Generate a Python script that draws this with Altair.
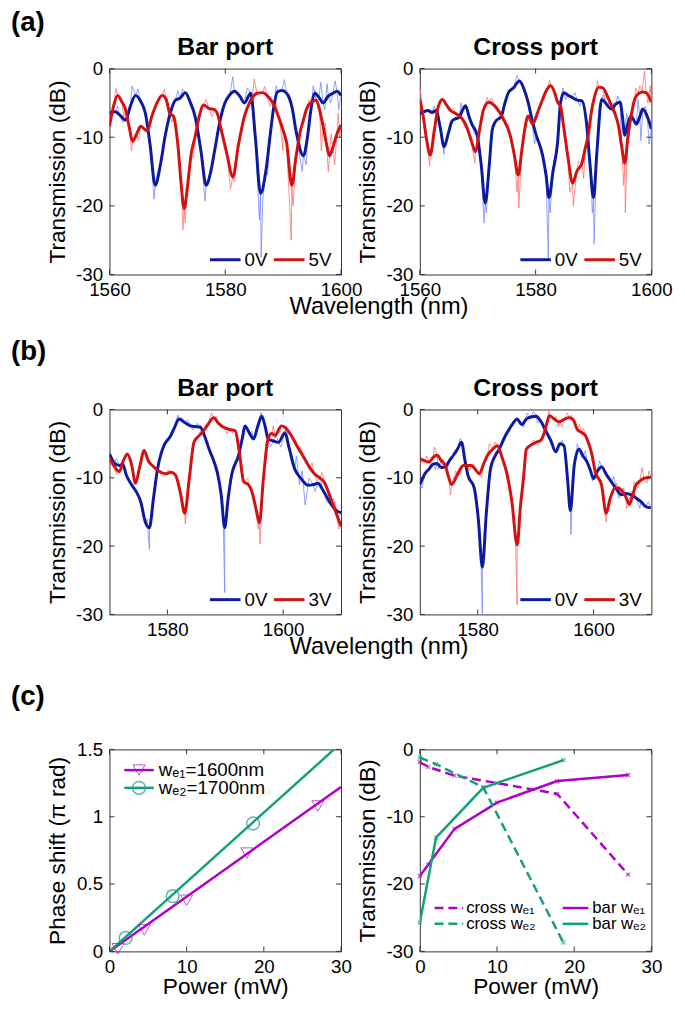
import altair as alt
import pandas as pd

FONT = "Liberation Sans"
BLUE = "#0b1a9e"
BLUE_RAW = "#7080ff"
RED = "#d41010"
RED_RAW = "#ff6a6a"
MAG = "#b000c8"
GRN = "#12a07c"
BOX = "#333333"

W = 235
H_A, H_B, H_C = 209, 208, 205

# ---------------- (a) Bar port ----------------
A_BAR_0V_WL = [1560, 1561, 1561.7, 1562.8, 1563.6, 1564.5, 1565.4, 1566.2, 1567, 1567.9, 1568.8, 1569.6, 1570.5,
               1571.4, 1572.2, 1573.1, 1573.9, 1574.8, 1575.8, 1576.7, 1577.5, 1578.2, 1579, 1579.9, 1580.8, 1581.6,
               1582.5, 1583.3, 1584.4, 1585.2, 1586.1, 1587, 1587.8, 1588.4, 1589, 1589.8, 1590.6, 1591.5, 1592.3,
               1593.5, 1594.2, 1594.8, 1595.5, 1596.2, 1596.9, 1597.8, 1598.6, 1599.3, 1600]
A_BAR_0V_DB = [-6.5, -6.3, -6.7, -7.5, -5.5, -3.9, -4.8, -6.5, -11, -17, -14, -9.9, -6.5,
               -4.6, -4.3, -3.5, -4.8, -7, -12, -17, -15, -11.8, -8, -5.1, -3.8, -3.3,
               -4, -5, -3.6, -10, -18.2, -15, -9.4, -5.5, -3.4, -3.2, -3.6, -5.5, -9.4,
               -12.7, -10, -6, -3.6, -4.2, -5, -4, -3.6, -3.3, -3.9]
A_BAR_0V_RAW_WL = [1561.4, 1562.3, 1563.9, 1564.9, 1566.5, 1567.7, 1568.2, 1570.9, 1571.8, 1572.6, 1574.3, 1576.5,
                   1577.3, 1580.4, 1581.3, 1582.0, 1583.8, 1584.8, 1585.9, 1586.2, 1586.5, 1587.3, 1588.8, 1590.2,
                   1591.0, 1592.7, 1593.3, 1594.0, 1595.2, 1595.8, 1596.5, 1597.2, 1597.6, 1598.2, 1599.0, 1599.6]
A_BAR_0V_RAW_DB = [-5.5, -7.8, -2.5, -3.0, -8, -19, -15.5, -5.5, -3.2, -3.0, -6.0, -19.3,
                   -16, -4.5, -1.2, -3.5, -2.8, -6.5, -22, -27.5, -19, -15.5, -2.5, -1.6,
                   -4.5, -12, -15, -14, -2.5, -5, -2, -6, -2.2, -5, -1.8, -6]

A_BAR_5V_WL = [1560, 1560.7, 1561.4, 1562.1, 1562.8, 1563.4, 1564, 1564.7, 1565.4, 1566, 1566.5, 1567.3, 1568.2,
               1569.1, 1569.8, 1570.4, 1571.1, 1571.8, 1572.4, 1572.9, 1573.5, 1574.1, 1574.8, 1575.5, 1576.2,
               1577.2, 1578.2, 1578.8, 1579.3, 1580.3, 1581.3, 1582.3, 1583.3, 1584.3, 1585.5, 1586.5, 1587.2,
               1588.2, 1589.2, 1590, 1590.6, 1591.5, 1592.2, 1592.9, 1593.5, 1594, 1595, 1595.7, 1596.3, 1596.9,
               1597.5, 1598, 1598.6, 1599.3, 1600]
A_BAR_5V_DB = [-8.4, -5.5, -3.9, -4.8, -6, -8.5, -10.6, -9.5, -8.4, -8.8, -9.1, -7, -5,
               -3.9, -4.5, -6.5, -7, -11, -17, -20.4, -17, -12.5, -9.9, -7, -5.3,
               -5.8, -6, -7, -8.9, -12.5, -15.8, -11, -7, -4.8, -3.6, -3.5, -3.9,
               -5, -7, -9, -10.8, -17, -13, -9.4, -7.5, -6, -4.8, -4.6, -6, -8.4,
               -11, -12.7, -11.5, -9.5, -8.2]
A_BAR_5V_RAW_WL = [1561.1, 1562.5, 1563.8, 1565.0, 1569.5, 1570.8, 1572.7, 1573.1, 1573.3, 1574.5, 1576.7, 1577.7,
                   1579.8, 1580.9, 1581.6, 1582.8, 1584.8, 1585.0, 1586.8, 1587.7, 1588.6, 1589.6, 1590.0, 1591.4,
                   1591.7, 1592.6, 1594.5, 1595.5, 1596.6, 1597.3, 1597.8, 1598.3, 1598.9, 1599.5, 1599.8]
A_BAR_5V_RAW_DB = [-2.9, -7, -12, -10.5, -3, -7.8, -23.5, -22.5, -19, -13, -4.5, -7,
                   -11, -17.5, -16.5, -8.5, -3.2, -1.5, -2.6, -5.5, -4.2, -9, -12, -25,
                   -20, -10.5, -4.5, -3.2, -12, -8, -15, -9.5, -14, -6.5, -10]

# ---------------- (a) Cross port ----------------
A_CRS_0V_WL = [1560, 1560.7, 1561.4, 1562.1, 1562.8, 1563.5, 1564.2, 1564.9, 1565.6, 1566.2, 1566.8, 1567.4, 1567.9,
               1568.5, 1569, 1569.9, 1570.6, 1571.3, 1572, 1572.5, 1573, 1574.1, 1574.7, 1575.3, 1576.2, 1577.2,
               1578, 1578.7, 1579.4, 1580.1, 1581.2, 1581.8, 1582.3, 1583, 1583.8, 1584.3, 1584.9, 1585.6, 1586.3,
               1587.2, 1588, 1588.8, 1589.4, 1590, 1590.6, 1591.4, 1592, 1592.5, 1593.1, 1593.8, 1594.6, 1595,
               1595.4, 1596, 1596.5, 1597, 1597.4, 1598, 1598.5, 1599.3, 1600]
A_CRS_0V_DB = [-6.6, -6.3, -6.1, -6.4, -6.1, -8.5, -11.4, -9.5, -7.6, -7.3, -7.1, -6, -5.4,
               -7, -8.1, -9.7, -14, -19.6, -14, -9, -7.8, -6.9, -5, -3.5, -2.8, -1.8,
               -3, -4.9, -7.5, -9.7, -12.6, -15.5, -18.8, -15, -10.7, -5, -3.5, -3.9, -4.2,
               -4.6, -4.7, -8, -14, -18.8, -12, -4.5, -4.9, -5.5, -5.9, -5.2, -4.9, -7,
               -9.7, -7.8, -6.9, -7.6, -8.1, -7, -5.9, -7, -8.8]
A_CRS_0V_RAW_WL = [1562.5, 1564.2, 1565.2, 1567.1, 1569.4, 1571.1, 1571.5, 1573.5, 1575.8, 1576.8, 1577.6, 1578.4,
                   1579.8, 1580.6, 1581.5, 1582.2, 1582.5, 1583.2, 1584.7, 1585.2, 1586.8, 1587.6, 1588.4, 1589.8,
                   1590.1, 1590.4, 1591.7, 1592.8, 1593.4, 1594.2, 1594.8, 1595.7, 1596.2, 1597.7, 1598.2, 1599.0,
                   1599.6]
A_CRS_0V_RAW_DB = [-5.5, -12.5, -8.5, -5, -9.5, -22.5, -21, -7.5, -2.8, -1.0, -2.5, -3.8,
                   -11, -10.5, -13.5, -28, -21, -13.5, -2.8, -4.5, -3.5, -5.5, -5, -21,
                   -25.5, -17, -3.8, -4.5, -6.5, -4, -11, -6.5, -10, -4.5, -10.5, -5.5,
                   -11]

A_CRS_5V_WL = [1560, 1560.5, 1561.2, 1561.8, 1562.5, 1563.2, 1563.9, 1564.6, 1565.3, 1566.3, 1567.3, 1568, 1568.9,
               1569.6, 1570.3, 1571, 1571.9, 1572.9, 1573.8, 1574.7, 1575.6, 1576.3, 1577, 1577.6, 1578.1, 1578.7,
               1579.5, 1580.3, 1581.2, 1582, 1582.6, 1583.2, 1583.8, 1584.3, 1584.9, 1585.6, 1586.4, 1587.1, 1588,
               1588.6, 1589.1, 1589.6, 1590.2, 1590.9, 1591.6, 1592.4, 1593.1, 1593.7, 1594.3, 1594.9, 1595.4,
               1596, 1596.5, 1597.1, 1597.7, 1598.4, 1599.1, 1600]
A_CRS_5V_DB = [-4.5, -6.5, -10.5, -12.6, -9, -5.5, -4.5, -5.3, -6.1, -6.6, -7.3, -8.3, -10.5,
               -12.1, -9, -6, -4.9, -5.4, -6.4, -7.8, -9.7, -12.5, -15.5, -12, -9, -6.9,
               -8.1, -6.5, -4.5, -3, -2.5, -3.3, -4.9, -5.5, -8.8, -13, -16.7, -15, -13.8,
               -11.5, -9.7, -6.5, -4, -2.7, -2.8, -4, -5.4, -6.5, -8.3, -11.5, -13.8,
               -9.5, -6.9, -4.5, -3.7, -3.4, -3.5, -4.9]
A_CRS_5V_RAW_WL = [1560.1, 1561.7, 1562.9, 1565.8, 1567.7, 1569.5, 1570.7, 1571.6, 1572.4, 1574.2, 1575.2, 1576.8,
                   1577.1, 1577.8, 1578.4, 1579.9, 1581.6, 1582.4, 1583.5, 1584.6, 1585.2, 1585.9, 1586.5, 1587.4,
                   1588.3, 1589.3, 1590.7, 1592.0, 1593.4, 1594.6, 1595.2, 1595.5, 1595.8, 1596.8, 1597.3, 1598.0,
                   1598.8, 1599.4, 1599.8]
A_CRS_5V_RAW_DB = [-3, -14.2, -6, -5.8, -8.5, -13.8, -7, -4.2, -4.3, -7.5, -8, -18,
                   -20.3, -11, -8, -7, -3.8, -1.7, -3.5, -7, -11, -18, -20, -13.5,
                   -16, -8.5, -1.8, -4.6, -5, -11, -17, -21, -12, -5, -2.8, -2.5,
                   -0.4, -5, -2.5]

# ---------------- (b) Bar port ----------------
B_BAR_0V_WL = [1570, 1570.8, 1571.7, 1572.3, 1572.9, 1573.8, 1574.6, 1575.4, 1576.2, 1576.9, 1577.6, 1578.3, 1578.9,
               1579.4, 1580.6, 1581.3, 1582, 1583, 1584, 1584.8, 1585.7, 1586.4, 1587.2, 1588, 1588.6, 1589.3,
               1589.9, 1590.5, 1591.1, 1592.3, 1593, 1593.4, 1594.2, 1594.9, 1595.6, 1596.3, 1596.9, 1597.4,
               1598.3, 1599.2, 1600.3, 1601, 1602, 1603, 1604.3, 1605.2, 1606, 1607, 1608.3, 1609.2, 1610]
B_BAR_0V_DB = [-6.5, -7.8, -8.2, -8, -9.6, -11, -12, -13.5, -16.5, -17.3, -13, -8.7, -6.5,
               -5.3, -3.8, -2.5, -1.4, -1.9, -2.4, -2.5, -2.6, -3.8, -5.8, -7.5, -9.1, -12.5,
               -17.3, -13, -9.6, -6.7, -4, -2.4, -3.5, -4.3, -2.5, -1, -2.5, -4.3,
               -4.6, -4.8, -3.4, -5.5, -8.7, -10, -11.1, -11, -10.8, -12, -13.9, -14.8, -15.1]
B_BAR_0V_RAW_WL = [1571.2, 1573.4, 1575.0, 1576.5, 1576.9, 1577.2, 1579.8, 1581.8, 1582.5, 1583.5, 1584.4, 1585.2,
                   1587.6, 1588.3, 1589.6, 1589.9, 1590.2, 1591.6, 1592.8, 1594.6, 1596.2, 1597.8, 1598.8, 1599.6,
                   1600.6, 1601.5, 1602.3, 1602.8, 1603.3, 1603.8, 1604.5, 1605.5, 1606.5, 1607.5, 1608.7, 1609.5]
B_BAR_0V_RAW_DB = [-7.2, -10.2, -12.8, -16, -20.5, -15, -4.5, -0.8, -1.2, -1.5, -3.0, -2.0,
                   -6.5, -9, -14, -26.8, -14, -8, -5, -3.2, -0.4, -5.5, -3.8, -5.5,
                   -2.5, -8, -6.8, -11, -9, -14, -10, -12, -10.5, -13.5, -13, -15.8]

B_BAR_3V_WL = [1570, 1570.8, 1571.7, 1572.4, 1573.1, 1573.8, 1574.5, 1575.2, 1576, 1576.7, 1577.4, 1578.5, 1579.7,
               1580.6, 1581.4, 1582.2, 1583, 1583.8, 1584.6, 1585.3, 1586, 1587, 1588, 1588.8, 1589.7, 1590.7,
               1591.7, 1592.4, 1593.2, 1594, 1594.6, 1595.3, 1595.9, 1596.6, 1597.4, 1598, 1598.6, 1599.7,
               1600.3, 1601.4, 1602.5, 1603.7, 1604.6, 1605.4, 1606.3, 1607.2, 1608, 1608.6, 1609.3, 1610]
B_BAR_3V_DB = [-7.2, -8.3, -9.1, -7.5, -6.5, -8, -10.8, -8.5, -6, -7.5, -8.2, -9, -9.4,
               -9.2, -9.6, -12, -15.2, -10, -4.8, -4, -3.4, -2.2, -1.2, -2, -2.6, -2.9,
               -3.1, -6, -10.6, -11, -12, -14.5, -16.6, -10, -4.3, -3.5, -3.8, -2.4,
               -2.6, -3.8, -5.5, -7.2, -8.5, -9.4, -10, -10.8, -12.5, -13.9, -15.5, -17.1]
B_BAR_3V_RAW_WL = [1571.2, 1572.8, 1575.6, 1577.9, 1579.2, 1580.2, 1581.8, 1582.8, 1583.1, 1583.4, 1585.7, 1586.5,
                   1587.6, 1588.5, 1589.2, 1590.3, 1591.2, 1592.8, 1593.9, 1594.3, 1595.7, 1596.0, 1596.3, 1597.0,
                   1598.3, 1599.0, 1599.4, 1600.8, 1601.0, 1602.0, 1603, 1604.2, 1605.0, 1605.8, 1606.7, 1607.7,
                   1609.0, 1609.6]
B_BAR_3V_RAW_DB = [-9.5, -6.8, -7, -8.5, -9.8, -8.8, -10.5, -14, -16.8, -13, -3.2, -2.8,
                   -0.5, -1.0, -2.2, -3.5, -3.4, -8.5, -10, -11.5, -17.5, -19.7, -15, -5,
                   -2.4, -3.2, -3.5, -3.0, -3, -4.8, -5.5, -8, -7.8, -10.5, -9.2, -12,
                   -13.5, -17.5]

# ---------------- (b) Cross port ----------------
B_CRS_0V_WL = [1570, 1570.8, 1571.6, 1572.3, 1573, 1573.7, 1574.4, 1575.1, 1575.8, 1576.5, 1577.2, 1577.8, 1578.3,
               1579.4, 1580.1, 1580.8, 1581.5, 1582.2, 1583, 1583.7, 1584.8, 1585.5, 1586.2, 1586.8, 1587.6,
               1588.4, 1589.2, 1590.1, 1590.8, 1591.8, 1592.6, 1593.5, 1594.2, 1594.9, 1595.5, 1596, 1596.7,
               1597.5, 1598.2, 1598.9, 1599.5, 1600, 1600.7, 1601.4, 1602.2, 1603.1, 1604, 1604.8, 1605.6,
               1606.5, 1607.4, 1608.2, 1609, 1609.9]
B_CRS_0V_DB = [-11, -9.5, -8.7, -8, -7.9, -8.5, -8.4, -7.5, -6.7, -5.8, -4.8, -7.5, -9.6,
               -11.5, -16, -23.1, -15, -8.7, -6.8, -5.8, -3.8, -2.8, -1.9, -1.4, -2.2,
               -1.4, -1.1, -1.0, -1.6, -3.2, -4.5, -6.2, -5, -5.3, -10, -14.8, -8,
               -5.8, -6.8, -7.7, -9, -10.1, -9, -8.4, -9.5, -10.6, -11.7, -12.5, -12.3,
               -12.5, -13, -13.5, -14.2, -14.4]
B_CRS_0V_RAW_WL = [1570.4, 1571.9, 1572.7, 1574.0, 1574.8, 1576.1, 1577, 1578.8, 1580.5, 1580.8, 1581.1, 1583.3,
                   1584.2, 1585.8, 1587.2, 1587.9, 1588.5, 1589.6, 1590.3, 1591.3, 1592.2, 1593.0, 1594.6, 1595.8,
                   1596.1, 1596.4, 1597.2, 1597.9, 1598.6, 1599.8, 1601, 1602.6, 1603.5, 1604.4, 1605.2, 1606,
                   1607, 1608, 1609.5]
B_CRS_0V_RAW_DB = [-11.5, -8, -8.8, -8, -8.6, -6.2, -4.2, -10.5, -20, -30, -18, -6.3,
                   -4.5, -2.3, -1.8, -2.6, -0.5, -0.3, -2, -2.2, -4.2, -5.4, -4.5, -13,
                   -18.3, -11, -5, -7, -6, -10.5, -7.5, -10, -9.8, -13, -11.5, -13.5,
                   -12, -14.5, -13.5]

B_CRS_3V_WL = [1570, 1570.8, 1571.6, 1572.3, 1573, 1573.7, 1574.4, 1575, 1575.5, 1576.5, 1577.5, 1578.2, 1578.9,
               1579.6, 1580.3, 1581, 1581.7, 1582.6, 1583.4, 1584.2, 1585.1, 1585.9, 1586.8, 1587.4, 1587.9,
               1588.4, 1589.2, 1590.1, 1590.9, 1591.5, 1592, 1592.4, 1593.2, 1594.1, 1595, 1595.8, 1596.5,
               1597.2, 1598, 1598.6, 1599.1, 1599.7, 1600.3, 1601.4, 1602.2, 1602.9, 1603.7, 1604.3, 1605,
               1605.6, 1606.2, 1606.8, 1607.3, 1608, 1608.7, 1609.9]
B_CRS_3V_DB = [-7.2, -7.5, -7.7, -7, -6.7, -7.5, -8.2, -10, -11, -9.5, -8.2, -8.2, -8.2,
               -8.8, -9.4, -8, -6.7, -5.8, -5.3, -7, -9.6, -13.5, -19.8, -14, -10.1,
               -5.8, -5.2, -4.8, -4.5, -3.4, -1.8, -0.9, -1.4, -1.8, -1.4, -1.2, -1.5,
               -2.9, -3.4, -3.8, -4.8, -6.5, -9.1, -11.1, -15.2, -13, -11.5, -11.5, -12,
               -12.8, -13.9, -12.5, -11.1, -10.5, -10.1, -9.9]
B_CRS_3V_RAW_WL = [1570.4, 1571.2, 1572.5, 1573.2, 1574.0, 1575.3, 1576.2, 1577.0, 1577.9, 1578.6, 1579.3, 1580.7,
                   1582, 1583.0, 1583.8, 1586.5, 1586.8, 1587.1, 1588.8, 1589.6, 1590.5, 1591.2, 1592.3, 1593.5,
                   1593.9, 1594.6, 1595.5, 1596.2, 1597.0, 1597.6, 1598.3, 1599.4, 1600.8, 1601.8, 1602.2, 1602.6,
                   1603.3, 1604.0, 1604.7, 1605.7, 1606.5, 1607.0, 1607.7, 1608.4, 1609.2, 1609.6]
B_CRS_3V_RAW_DB = [-7.8, -6.8, -5.5, -8.8, -7.2, -12.5, -9, -9.5, -7.5, -9, -8, -10,
                   -5, -4.8, -6, -18, -28.6, -20, -5.8, -4.5, -5.3, -4, 0, -1,
                   -2.5, -2.5, -0.5, -0.8, -2.5, -2.2, -2.8, -5.5, -10, -13, -16.5, -13.5,
                   -12.5, -10.8, -12.5, -14.5, -12, -10.5, -11.5, -8.5, -10.8, -9]

# ---------------- (c) phase shift ----------------
WE1_P = [1.1, 4.5, 10, 17.8, 27]
WE1_PHASE = [0.02, 0.16, 0.38, 0.73, 1.08]
WE2_P = [2.1, 8.2, 18.6]
WE2_PHASE = [0.1, 0.41, 0.95]
FIT1_P = [0, 30]
FIT1_PHASE = [0, 1.22]
FIT2_P = [0, 29.1]
FIT2_PHASE = [0, 1.5]

# ---------------- (c) transmission ----------------
T1_P = [0, 1.1, 4.5, 10, 17.8, 27]
CROSS1_DB = [-1.9, -2.6, -3.9, -5.0, -6.6, -18.6]
BAR1_DB = [-18.8, -17.1, -11.8, -7.9, -4.7, -3.8]
T2_P = [0, 2.1, 8.2, 18.6]
CROSS2_DB = [-1.2, -2.2, -5.6, -28.7]
BAR2_DB = [-25.7, -13.1, -5.7, -1.6]

TICK_FS = 19
TITLE_FS = 23
HEAD_FS = 25
PANEL_FS = 28
LEG_FS = 19
LEG_C_FS = 17


def one_row():
    return pd.DataFrame({"a": [0]})


def df_xy(xs, ys):
    return pd.DataFrame({"x": xs, "y": ys})


def merged(wl, db, rwl, rdb):
    pts = sorted(list(zip(wl, db)) + list(zip(rwl, rdb)))
    return pd.DataFrame(pts, columns=["x", "y"])


def text_layer(txt, x, y, size, weight="normal", align="left", baseline="middle"):
    return alt.Chart(one_row()).mark_text(
        text=txt, font=FONT, fontSize=size, fontWeight=weight, align=align,
        baseline=baseline, color="black"
    ).encode(x=alt.value(x), y=alt.value(y))


def rule_layer(x1, x2, y, color, width, dash=None):
    kw = dict(color=color, strokeWidth=width)
    if dash:
        kw["strokeDash"] = dash
    return alt.Chart(one_row()).mark_rule(**kw).encode(
        x=alt.value(x1), x2=alt.value(x2), y=alt.value(y))


def x_axis(values, title=None):
    kw = dict(values=values, ticks=False, domain=False, grid=False,
              labelExpr="'' + datum.value", labelFont=FONT, labelFontSize=TICK_FS,
              labelColor="black", labelPadding=6, labelFlush=False, labelOverlap=False)
    if title:
        kw.update(title=title, titleFont=FONT, titleFontSize=TITLE_FS, titleFontWeight="normal",
                  titleColor="black", titleX=W / 2, titleY=36, titleAlign="center",
                  titleBaseline="middle")
    else:
        kw["title"] = None
    return alt.Axis(**kw)


def y_axis(values, title, H):
    return alt.Axis(values=values, ticks=False, domain=False, grid=False,
                    labelExpr="'' + datum.value", labelFont=FONT, labelFontSize=TICK_FS,
                    labelColor="black", labelPadding=7, labelFlush=False, labelOverlap=False,
                    title=title, titleFont=FONT, titleFontSize=TITLE_FS, titleFontWeight="normal",
                    titleColor="black", titleX=-53, titleY=H / 2, titleAngle=270,
                    titleAlign="center", titleBaseline="middle")


def tick_layers(X, Y, xvals, yvals, H, L=5):
    dfx = pd.DataFrame({"x": xvals})
    dfy = pd.DataFrame({"y": yvals})
    return [
        alt.Chart(dfx).mark_rule(color=BOX, strokeWidth=1).encode(x=X, y=alt.value(H), y2=alt.value(H - L)),
        alt.Chart(dfx).mark_rule(color=BOX, strokeWidth=1).encode(x=X, y=alt.value(0), y2=alt.value(L)),
        alt.Chart(dfy).mark_rule(color=BOX, strokeWidth=1).encode(y=Y, x=alt.value(0), x2=alt.value(L)),
        alt.Chart(dfy).mark_rule(color=BOX, strokeWidth=1).encode(y=Y, x=alt.value(W - L), x2=alt.value(W)),
    ]


def spectrum_panel(title, H, xdom, xticks, s0, s1, r0, r1, vlab, panel_label=None, label_y=0, shared_title=False):
    X = alt.X("x:Q", scale=alt.Scale(domain=xdom, nice=False, zero=False), axis=x_axis(xticks))
    Y = alt.Y("y:Q", scale=alt.Scale(domain=[-30, 0], nice=False, zero=False),
              axis=y_axis([0, -10, -20, -30], "Transmission (dB)", H))
    layers = [
        alt.Chart(r0).mark_line(color=BLUE_RAW, strokeWidth=1, opacity=0.75, clip=True).encode(x=X, y=Y),
        alt.Chart(r1).mark_line(color=RED_RAW, strokeWidth=1, opacity=0.75, clip=True).encode(x=X, y=Y),
        alt.Chart(s0).mark_line(color=BLUE, strokeWidth=3, clip=True, interpolate="monotone").encode(x=X, y=Y),
        alt.Chart(s1).mark_line(color=RED, strokeWidth=3, clip=True, interpolate="monotone").encode(x=X, y=Y),
    ]
    layers += tick_layers(X, Y, xticks, [0, -10, -20, -30], H)
    ly = H - 15
    layers += [
        rule_layer(102, 133, ly, BLUE, 3),
        text_layer("0V", 137, ly, LEG_FS),
        rule_layer(167, 198, ly, RED, 3),
        text_layer(vlab, 202, ly, LEG_FS),
        text_layer(title, W / 2, -14, HEAD_FS, "bold", "center", "alphabetic"),
    ]
    if panel_label:
        layers.append(text_layer(panel_label, -100, label_y, PANEL_FS, "bold", "left", "middle"))
    if shared_title:
        layers.append(text_layer("Wavelength (nm)", W + 38.5, H + 33, 24, "normal", "center", "middle"))
    return alt.layer(*layers).properties(width=W, height=H)


a_left = spectrum_panel("Bar port", H_A, [1560, 1600], [1560, 1580, 1600],
                        df_xy(A_BAR_0V_WL, A_BAR_0V_DB), df_xy(A_BAR_5V_WL, A_BAR_5V_DB),
                        merged(A_BAR_0V_WL, A_BAR_0V_DB, A_BAR_0V_RAW_WL, A_BAR_0V_RAW_DB),
                        merged(A_BAR_5V_WL, A_BAR_5V_DB, A_BAR_5V_RAW_WL, A_BAR_5V_RAW_DB),
                        "5V", "(a)", -46, True)
a_right = spectrum_panel("Cross port", H_A, [1560, 1600], [1560, 1580, 1600],
                         df_xy(A_CRS_0V_WL, A_CRS_0V_DB), df_xy(A_CRS_5V_WL, A_CRS_5V_DB),
                         merged(A_CRS_0V_WL, A_CRS_0V_DB, A_CRS_0V_RAW_WL, A_CRS_0V_RAW_DB),
                         merged(A_CRS_5V_WL, A_CRS_5V_DB, A_CRS_5V_RAW_WL, A_CRS_5V_RAW_DB),
                         "5V")
b_left = spectrum_panel("Bar port", H_B, [1570, 1610], [1580, 1600],
                        df_xy(B_BAR_0V_WL, B_BAR_0V_DB), df_xy(B_BAR_3V_WL, B_BAR_3V_DB),
                        merged(B_BAR_0V_WL, B_BAR_0V_DB, B_BAR_0V_RAW_WL, B_BAR_0V_RAW_DB),
                        merged(B_BAR_3V_WL, B_BAR_3V_DB, B_BAR_3V_RAW_WL, B_BAR_3V_RAW_DB),
                        "3V", "(b)", -58, True)
b_right = spectrum_panel("Cross port", H_B, [1570, 1610], [1580, 1600],
                         df_xy(B_CRS_0V_WL, B_CRS_0V_DB), df_xy(B_CRS_3V_WL, B_CRS_3V_DB),
                         merged(B_CRS_0V_WL, B_CRS_0V_DB, B_CRS_0V_RAW_WL, B_CRS_0V_RAW_DB),
                         merged(B_CRS_3V_WL, B_CRS_3V_DB, B_CRS_3V_RAW_WL, B_CRS_3V_RAW_DB),
                         "3V")

# ---- (c) left: phase shift ----
H = H_C
Xp = alt.X("x:Q", scale=alt.Scale(domain=[0, 30], nice=False, zero=False),
           axis=x_axis([0, 10, 20, 30], "Power (mW)"))
Yp = alt.Y("y:Q", scale=alt.Scale(domain=[0, 1.5], nice=False, zero=False),
           axis=y_axis([0, 0.5, 1, 1.5], "Phase shift (\u03c0 rad)", H))
c_left_layers = [
    alt.Chart(df_xy(FIT1_P, FIT1_PHASE)).mark_line(color=MAG, strokeWidth=2.5, clip=True).encode(x=Xp, y=Yp),
    alt.Chart(df_xy(FIT2_P, FIT2_PHASE)).mark_line(color=GRN, strokeWidth=2.5, clip=True).encode(x=Xp, y=Yp),
    alt.Chart(df_xy(WE1_P, WE1_PHASE)).mark_point(shape="triangle-down", size=150, filled=False,
                                                  color=MAG, strokeWidth=1).encode(x=Xp, y=Yp),
    alt.Chart(df_xy(WE2_P, WE2_PHASE)).mark_point(shape="circle", size=170, filled=False,
                                                  color=GRN, strokeWidth=1.5).encode(x=Xp, y=Yp),
]
c_left_layers += tick_layers(Xp, Yp, [0, 10, 20, 30], [0, 0.5, 1, 1.5], H)
c_left_layers += [
    rule_layer(15, 45, 21, MAG, 2.5),
    alt.Chart(one_row()).mark_point(shape="triangle-down", size=150, filled=False, color=MAG,
                                    strokeWidth=1).encode(x=alt.value(30), y=alt.value(21)),
    text_layer("w\u2091\u2081=1600nm", 50, 21, LEG_FS),
    rule_layer(15, 45, 39, GRN, 2.5),
    alt.Chart(one_row()).mark_point(shape="circle", size=170, filled=False, color=GRN,
                                    strokeWidth=1.5).encode(x=alt.value(30), y=alt.value(39)),
    text_layer("w\u2091\u2082=1700nm", 50, 39, LEG_FS),
    text_layer("(c)", -100, -53, PANEL_FS, "bold", "left", "middle"),
]
c_left = alt.layer(*c_left_layers).properties(width=W, height=H)

# ---- (c) right: transmission vs power ----
Xt = alt.X("x:Q", scale=alt.Scale(domain=[0, 30], nice=False, zero=False),
           axis=x_axis([0, 10, 20, 30], "Power (mW)"))
Yt = alt.Y("y:Q", scale=alt.Scale(domain=[-30, 0], nice=False, zero=False),
           axis=y_axis([0, -10, -20, -30], "Transmission (dB)", H))
XSHAPE = "M-1,-1L1,1M-1,1L1,-1"
c_right_layers = []
for xs, ys, col, dash in [(T1_P, CROSS1_DB, MAG, [9, 5]), (T1_P, BAR1_DB, MAG, None),
                          (T2_P, CROSS2_DB, GRN, [9, 5]), (T2_P, BAR2_DB, GRN, None)]:
    kw = dict(color=col, strokeWidth=2.5, clip=True)
    if dash:
        kw["strokeDash"] = dash
    d = df_xy(xs, ys)
    c_right_layers.append(alt.Chart(d).mark_line(**kw).encode(x=Xt, y=Yt))
    c_right_layers.append(alt.Chart(d).mark_point(shape=XSHAPE, size=16, filled=False, color=col,
                                                  strokeWidth=1.2).encode(x=Xt, y=Yt))
c_right_layers += tick_layers(Xt, Yt, [0, 10, 20, 30], [0, -10, -20, -30], H)
c_right_layers += [
    rule_layer(15, 44, 161, MAG, 2.5, [9, 5]),
    text_layer("cross w\u2091\u2081", 47, 161, LEG_C_FS),
    rule_layer(15, 44, 177, GRN, 2.5, [9, 5]),
    text_layer("cross w\u2091\u2082", 47, 177, LEG_C_FS),
    rule_layer(145, 171, 161, MAG, 2.5),
    text_layer("bar w\u2091\u2081", 175, 161, LEG_C_FS),
    rule_layer(145, 171, 177, GRN, 2.5),
    text_layer("bar w\u2091\u2082", 175, 177, LEG_C_FS),
]
c_right = alt.layer(*c_right_layers).properties(width=W, height=H)

chart = alt.concat(
    a_left, a_right, b_left, b_right, c_left, c_right,
    columns=2, spacing={"row": 137, "column": 80}, bounds="flush", align="each",
).properties(
    padding={"left": 2, "top": -7, "right": 4, "bottom": 4},
    background="white",
).configure(font=FONT).configure_view(stroke=BOX, strokeWidth=1)

chart.save("out.html", embed_options={"renderer": "svg", "actions": False})
